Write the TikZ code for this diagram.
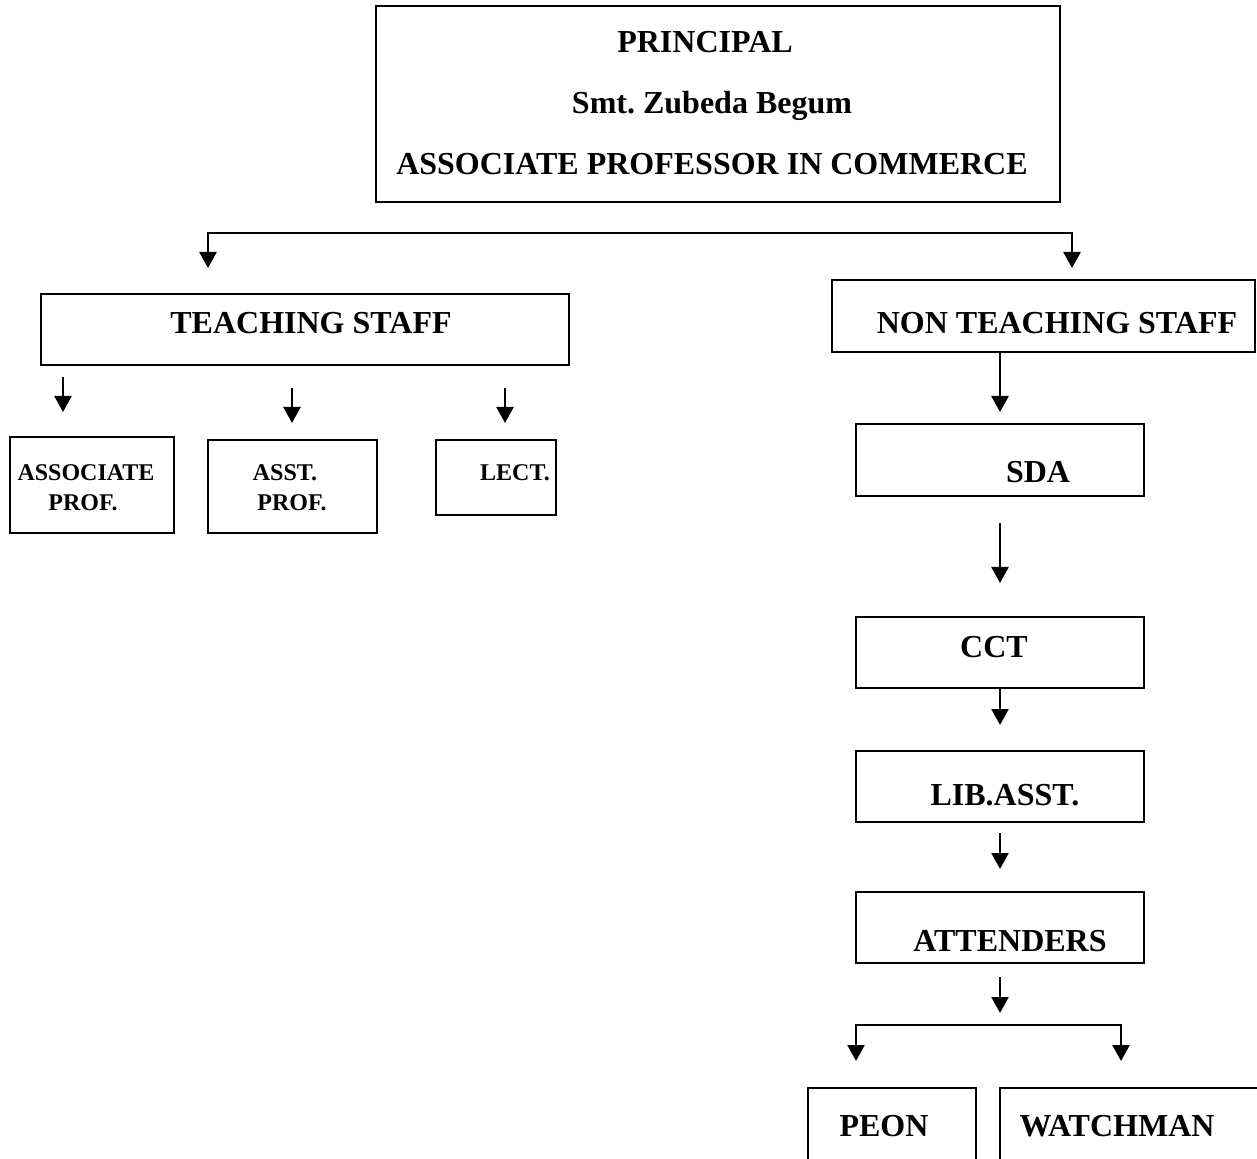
\documentclass[tikz,border=0pt]{standalone}
\usepackage{fontspec}
\setmainfont{Liberation Serif}
\usetikzlibrary{arrows.meta,fit}
\begin{document}
\begin{tikzpicture}[x=0.5pt,y=-0.5pt,
  box/.style={draw, line width=1.1pt, inner sep=0pt},
  big/.style={anchor=base, inner sep=0pt, font=\fontsize{16}{19}\selectfont\bfseries},
  small/.style={anchor=base, inner sep=0pt, font=\fontsize{12}{14}\selectfont\bfseries},
  arr/.style={line width=1.3pt, -{Triangle[length=8pt,width=8.5pt]}},
  dbl/.style={line width=1.3pt, {Triangle[length=8pt,width=8.5pt]}-{Triangle[length=8pt,width=8.5pt]}}]
\useasboundingbox (0,0) rectangle (1257,1159);

% boxes
\node[box, fit={(376,6) (1060,202)}] (pr) {};
\node[box, fit={(41,294) (569,365)}] (ts) {};
\node[box, fit={(10,437) (174,533)}] (ap) {};
\node[box, fit={(208,440) (377,533)}] (asp) {};
\node[box, fit={(436,440) (556,515)}] (lc) {};
\node[box, fit={(832,280) (1255,352)}] (nts) {};
\node[box, fit={(856,424) (1144,496)}] (sda) {};
\node[box, fit={(856,617) (1144,688)}] (cct) {};
\node[box, fit={(856,751) (1144,822)}] (lib) {};
\node[box, fit={(856,892) (1144,963)}] (att) {};
\node[box, fit={(808,1088) (976,1175)}] (peon) {};
\node[box, fit={(1000,1088) (1265,1175)}] (wm) {};

% texts
\node[big] (t1) at (705,53) {PRINCIPAL};
\node[big] (t2) at (712,114) {Smt.\ Zubeda Begum};
\node[big] (t3) at (712,175) {ASSOCIATE PROFESSOR IN COMMERCE};
\node[big] (t4) at (311,334) {TEACHING STAFF};
\node[small] (t5) at (86,481) {ASSOCIATE};
\node[small] (t6) at (83,511) {PROF.};
\node[small] (t7) at (285,481) {ASST.};
\node[small] (t8) at (292,511) {PROF.};
\node[small] (t9) at (515,481) {LECT.};
\node[big] (t10) at (1057,334) {NON TEACHING STAFF};
\node[big] (t11) at (1038,483) {SDA};
\node[big] (t12) at (994,657) {CCT};
\node[big] (t13) at (1005,805) {LIB.ASST.};
\node[big] (t14) at (1010,951) {ATTENDERS};
\node[big] (t15) at (884,1136) {PEON};
\node[big] (t16) at (1117,1136) {WATCHMAN};

% connector coordinates
\coordinate (bl) at (208,268);
\coordinate (br) at (1072,268);
\coordinate (a1s) at (63,377);  \coordinate (a1e) at (63,412);
\coordinate (a2s) at (292,388); \coordinate (a2e) at (292,423);
\coordinate (a3s) at (505,388); \coordinate (a3e) at (505,423);
\coordinate (n1s) at (1000,352); \coordinate (n1e) at (1000,412);
\coordinate (n2s) at (1000,523); \coordinate (n2e) at (1000,583);
\coordinate (n3s) at (1000,689); \coordinate (n3e) at (1000,725);
\coordinate (n4s) at (1000,833); \coordinate (n4e) at (1000,869);
\coordinate (n5s) at (1000,977); \coordinate (n5e) at (1000,1013);
\coordinate (pl) at (856,1061);
\coordinate (pr2) at (1121,1061);

% connectors
\draw[dbl] (bl) -- (208,233) -- (1072,233) -- (br);
\draw[arr] (a1s) -- (a1e);
\draw[arr] (a2s) -- (a2e);
\draw[arr] (a3s) -- (a3e);
\draw[arr] (n1s) -- (n1e);
\draw[arr] (n2s) -- (n2e);
\draw[arr] (n3s) -- (n3e);
\draw[arr] (n4s) -- (n4e);
\draw[arr] (n5s) -- (n5e);
\draw[dbl] (pl) -- (856,1025) -- (1121,1025) -- (pr2);
\end{tikzpicture}
\end{document}
